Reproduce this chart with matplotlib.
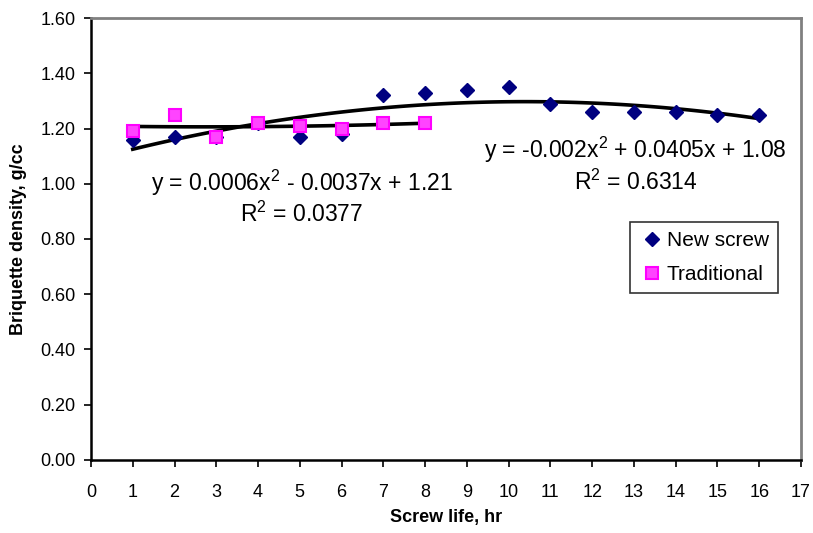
import matplotlib
matplotlib.use("Agg")
import matplotlib.pyplot as plt
import numpy as np

plt.rcParams['font.family'] = ['Liberation Sans', 'DejaVu Sans']
plt.rcParams['mathtext.fontset'] = 'custom'
plt.rcParams['mathtext.rm'] = 'Liberation Sans'
plt.rcParams['mathtext.it'] = 'Liberation Sans:italic'

# screw life (hr) and briquette density (g/cc)
new_hours = [1, 2, 3, 4, 5, 6, 7, 8, 9, 10, 11, 12, 13, 14, 15, 16]
new_density = [1.16, 1.17, 1.17, 1.22, 1.17, 1.18, 1.32, 1.33, 1.34, 1.35,
               1.29, 1.26, 1.26, 1.26, 1.25, 1.25]
trad_hours = [1, 2, 3, 4, 5, 6, 7, 8]
trad_density = [1.19, 1.25, 1.17, 1.22, 1.21, 1.20, 1.22, 1.22]

new_eq = "y = -0.002x$^2$ + 0.0405x + 1.08"
new_r2 = "R$^2$ = 0.6314"
trad_eq = "y = 0.0006x$^2$ - 0.0037x + 1.21"
trad_r2 = "R$^2$ = 0.0377"

fig = plt.figure(figsize=(8.13, 5.33), dpi=100)
ax = fig.add_axes([0.1119, 0.137, 0.8733, 0.8292])

# 2nd order polynomial trendlines (as in Excel)
for hx, hy in [(new_hours, new_density), (trad_hours, trad_density)]:
    c = np.polyfit(hx, hy, 2)
    xs = np.linspace(min(hx), max(hx), 100)
    ax.plot(xs, np.polyval(c, xs), color='black', lw=2.6, zorder=3)

ax.plot(new_hours, new_density, linestyle='none', marker='D', ms=7.5,
        color='#000080', label='New screw', zorder=4)
ax.plot(trad_hours, trad_density, linestyle='none', marker='s', ms=8,
        markerfacecolor='#ff44ff', markeredgecolor='#ff00ff', mew=1.5,
        label='Traditional', zorder=5)

ax.text(5.05, 1.003, trad_eq, fontsize=16.5, ha='center', va='center')
ax.text(5.05, 0.89, trad_r2, fontsize=16.5, ha='center', va='center')
ax.text(13.03, 1.122, new_eq, fontsize=16.5, ha='center', va='center')
ax.text(13.05, 1.007, new_r2, fontsize=16.5, ha='center', va='center')

ax.set_xlim(0, 17)
ax.set_ylim(0, 1.6)
ax.set_xticks(range(0, 18))
ax.set_yticks(np.arange(0, 1.61, 0.2))
ax.set_yticklabels([f"{v:.2f}" for v in np.arange(0, 1.61, 0.2)])
ax.tick_params(direction='out', length=5, width=1.2, labelsize=13, pad=6)
ax.tick_params(axis='x', pad=12)

for s in ['left', 'bottom']:
    ax.spines[s].set_linewidth(1.8)
    ax.spines[s].set_color('black')
for s in ['top', 'right']:
    ax.spines[s].set_linewidth(2)
    ax.spines[s].set_color('#808080')

ax.set_xlabel("Screw life, hr", fontsize=13, fontweight='bold', labelpad=6)
ax.set_ylabel("Briquette density, g/cc", fontsize=13, fontweight='bold', labelpad=10)

leg = ax.legend(loc='upper left', bbox_to_anchor=(0.745, 0.562), fontsize=15,
                frameon=True, fancybox=False, edgecolor='black',
                handletextpad=0.1, handlelength=1.2, borderpad=0.45,
                labelspacing=0.7)
leg.get_frame().set_linewidth(1.2)

fig.savefig("out.png", dpi=100)
